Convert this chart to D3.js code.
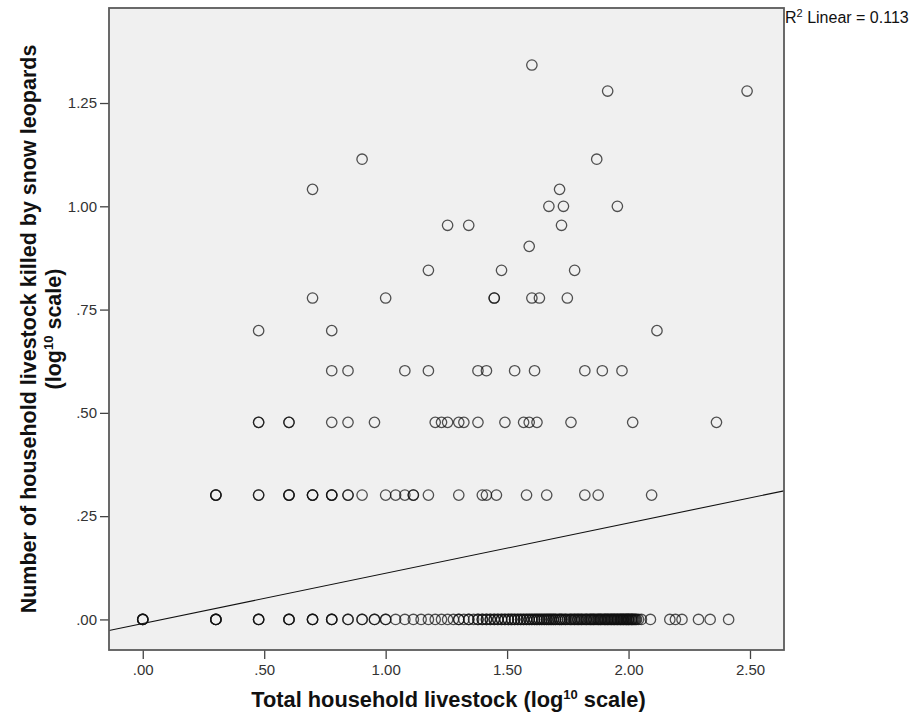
<!DOCTYPE html>
<html>
<head>
<meta charset="utf-8">
<script src="https://cdn.jsdelivr.net/npm/d3@7"></script>
<style>
  body { margin: 0; background: #fff; }
  svg { display: block; font-family: "Liberation Sans", Arial, sans-serif; }
</style>
</head>
<body>
<svg id="chart" width="916" height="724"></svg>
<script>
// axis ticks
const xTickValues = [0, 0.5, 1, 1.5, 2, 2.5];
const xTickLabels = ['.00', '.50', '1.00', '1.50', '2.00', '2.50'];
const yTickValues = [0, 0.25, 0.5, 0.75, 1, 1.25];
const yTickLabels = ['.00', '.25', '.50', '.75', '1.00', '1.25'];

// fit line
const fitIntercept = -0.010;
const fitSlope = 0.1217;
const rSquared = '0.113';

// x values (log10 total livestock) for each y level (log10 livestock killed)
const row000 = [0, 0, 0, 0, 0.301, 0.301, 0.301, 0.301, 0.477, 0.477, 0.477, 0.602, 0.602, 0.602,
  0.699, 0.699, 0.699, 0.778, 0.778, 0.778, 0.845, 0.845, 0.903, 0.903, 0.954, 0.954, 1.000, 1.000,
  1.041, 1.079, 1.114, 1.146, 1.176, 1.204, 1.230, 1.255, 1.279, 1.301, 1.322, 1.342, 1.362, 1.380,
  1.398, 1.415, 1.431, 1.447, 1.447, 1.462, 1.477, 1.477, 1.491, 1.505, 1.505, 1.519, 1.531, 1.544,
  1.544, 1.556, 1.568, 1.580, 1.591, 1.602, 1.602, 1.613, 1.623, 1.633, 1.643, 1.653, 1.653, 1.663,
  1.672, 1.681, 1.690, 1.699, 1.699, 1.716, 1.724, 1.740, 1.748, 1.763, 1.778, 1.778, 1.792, 1.806,
  1.813, 1.826, 1.845, 1.845, 1.857, 1.875, 1.886, 1.903, 1.903, 1.914, 1.929, 1.940, 1.954, 1.954,
  1.968, 1.978, 1.991, 2.000, 2.000, 2.013, 2.025, 2.041, 2.053, 2.090, 2.170, 2.193, 2.220, 2.288,
  2.336, 2.412,
  1.301, 1.342, 1.380, 1.398, 1.415, 1.431, 1.462, 1.491, 1.519, 1.531, 1.556, 1.568, 1.580, 1.591,
  1.613, 1.623, 1.633, 1.643, 1.663, 1.672, 1.681, 1.690, 1.708, 1.716, 1.724, 1.732, 1.740, 1.756,
  1.763, 1.771, 1.785, 1.792, 1.799, 1.806, 1.820, 1.826, 1.833, 1.839, 1.851, 1.857, 1.863, 1.869,
  1.875, 1.881, 1.886, 1.892, 1.898, 1.908, 1.914, 1.919, 1.924, 1.929, 1.934, 1.940, 1.944, 1.949,
  1.959, 1.964, 1.968, 1.973, 1.978, 1.982, 1.987, 1.991, 1.996, 2.004, 2.009, 2.013, 2.017, 2.021,
  2.029, 2.033];
const row301 = [0.301, 0.301, 0.301, 0.477, 0.477, 0.602, 0.602, 0.602, 0.699, 0.699, 0.699, 0.778,
  0.778, 0.778, 0.845, 0.845, 0.903, 1.000, 1.041, 1.079, 1.114, 1.114, 1.176, 1.301, 1.398, 1.415,
  1.456, 1.580, 1.663, 1.820, 1.875, 2.095];
const row477 = [0.477, 0.477, 0.602, 0.602, 0.778, 0.845, 0.954, 1.204, 1.230, 1.255, 1.301, 1.322,
  1.380, 1.491, 1.568, 1.591, 1.623, 1.763, 2.017, 2.362];
const row602 = [0.778, 0.845, 1.079, 1.176, 1.380, 1.415, 1.531, 1.613, 1.820, 1.892, 1.973];
const row699 = [0.477, 0.778, 2.117];
const row778 = [0.699, 1.000, 1.447, 1.447, 1.602, 1.633, 1.748];
const row845 = [1.176, 1.477, 1.778];
const row903 = [1.591];
const row954 = [1.255, 1.342, 1.724];
const row1000 = [1.672, 1.732, 1.954];
const row1041 = [0.699, 1.716];
const row1114 = [0.903, 1.869];
const row1279 = [1.914, 2.488];
const row1342 = [1.602];

const rows = [
  [0, row000], [0.301, row301], [0.477, row477], [0.602, row602], [0.699, row699],
  [0.778, row778], [0.845, row845], [0.903, row903], [0.954, row954], [1.000, row1000],
  [1.041, row1041], [1.114, row1114], [1.279, row1279], [1.342, row1342]
];
const points = [];
rows.forEach(r => r[1].forEach(x => points.push({x: x, y: r[0]})));

const svg = d3.select('#chart');
const plot = {left: 109, top: 8, right: 784, bottom: 650};

const x = d3.scaleLinear().domain([-0.139, 2.640]).range([plot.left, plot.right]);
const y = d3.scaleLinear().domain([-0.074, 1.480]).range([plot.bottom, plot.top]);

svg.append('defs').append('clipPath').attr('id', 'clip')
  .append('rect')
  .attr('x', plot.left).attr('y', plot.top)
  .attr('width', plot.right - plot.left).attr('height', plot.bottom - plot.top);

// plot background
svg.append('rect')
  .attr('x', plot.left).attr('y', plot.top)
  .attr('width', plot.right - plot.left).attr('height', plot.bottom - plot.top)
  .attr('fill', '#f0f0f0');

// axes
const yAxis = svg.append('g')
  .attr('transform', 'translate(' + plot.left + ',0)')
  .call(d3.axisLeft(y).tickValues(yTickValues).tickSize(9).tickPadding(3)
    .tickFormat((d, i) => yTickLabels[i]));
const xAxis = svg.append('g')
  .attr('transform', 'translate(0,' + plot.bottom + ')')
  .call(d3.axisBottom(x).tickValues(xTickValues).tickSize(9).tickPadding(5)
    .tickFormat((d, i) => xTickLabels[i]));
[xAxis, yAxis].forEach(a => {
  a.select('.domain').remove();
  a.selectAll('line').attr('stroke', '#444').attr('stroke-width', 1.3);
  a.selectAll('text')
    .attr('font-family', '"Liberation Sans", Arial, sans-serif')
    .attr('font-size', 15).attr('fill', '#333');
});

// points
svg.append('g').attr('clip-path', 'url(#clip)')
  .selectAll('circle')
  .data(points)
  .enter()
  .append('circle')
  .attr('cx', d => x(d.x))
  .attr('cy', d => y(d.y))
  .attr('r', 5.2)
  .attr('fill', 'none')
  .attr('stroke', '#111')
  .attr('stroke-opacity', 0.72)
  .attr('stroke-width', 1.3);

// linear fit
const xd = x.domain();
svg.append('line')
  .attr('clip-path', 'url(#clip)')
  .attr('x1', x(xd[0])).attr('y1', y(fitIntercept + fitSlope * xd[0]))
  .attr('x2', x(xd[1])).attr('y2', y(fitIntercept + fitSlope * xd[1]))
  .attr('stroke', '#111')
  .attr('stroke-width', 1.1);

// frame
svg.append('rect')
  .attr('x', plot.left).attr('y', plot.top)
  .attr('width', plot.right - plot.left).attr('height', plot.bottom - plot.top)
  .attr('fill', 'none')
  .attr('stroke', '#5a5a5a')
  .attr('stroke-width', 1.8);

// R squared label
const r2 = svg.append('text')
  .attr('x', plot.right + 1).attr('y', 23)
  .attr('font-size', 16).attr('fill', '#111');
r2.append('tspan').text('R');
r2.append('tspan').attr('font-size', 11).attr('dy', -6).text('2');
r2.append('tspan').attr('dy', 6).text(' Linear = ' + rSquared);

// axis titles
const xTitle = svg.append('text')
  .attr('x', (plot.left + plot.right) / 2 + 2).attr('y', 707)
  .attr('text-anchor', 'middle')
  .attr('font-size', 21.8).attr('font-weight', 'bold').attr('fill', '#111');
xTitle.append('tspan').text('Total household livestock (log');
xTitle.append('tspan').attr('font-size', 13).attr('dy', -8).text('10');
xTitle.append('tspan').attr('dy', 8).text(' scale)');

const yTitle = svg.append('g')
  .attr('transform', 'translate(0,' + (plot.top + plot.bottom) / 2 + ') rotate(-90)');
yTitle.append('text')
  .attr('x', 0).attr('y', 36)
  .attr('text-anchor', 'middle')
  .attr('font-size', 21.5).attr('font-weight', 'bold').attr('fill', '#111')
  .text('Number of household livestock killed by snow leopards');
const yTitle2 = yTitle.append('text')
  .attr('x', 0).attr('y', 61)
  .attr('text-anchor', 'middle')
  .attr('font-size', 21.5).attr('font-weight', 'bold').attr('fill', '#111');
yTitle2.append('tspan').text('(log');
yTitle2.append('tspan').attr('font-size', 13).attr('dy', -8).text('10');
yTitle2.append('tspan').attr('dy', 8).text(' scale)');
</script>
</body>
</html>
